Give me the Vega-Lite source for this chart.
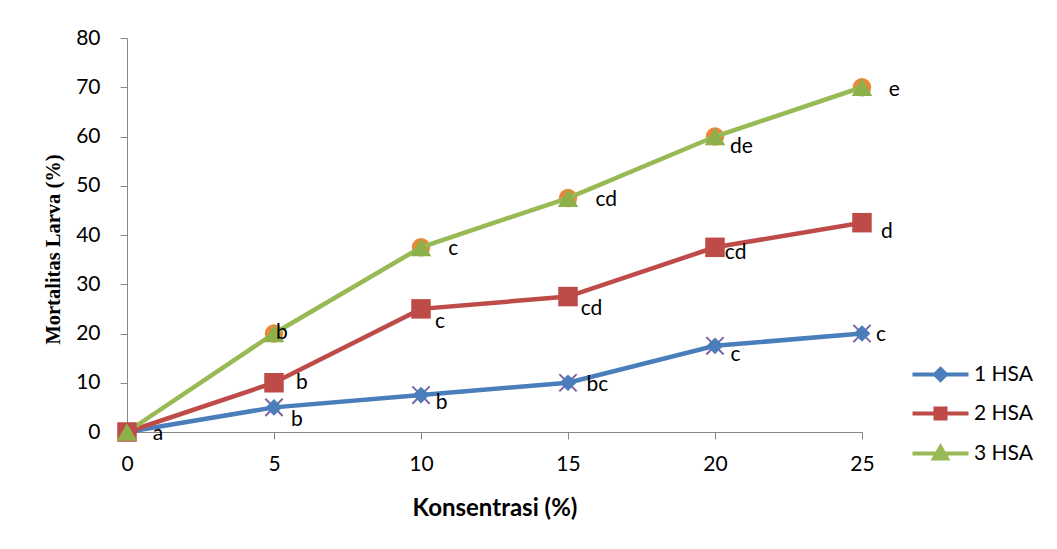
{
  "$schema": "https://vega.github.io/schema/vega-lite/v6.json",
  "width": 735,
  "height": 394,
  "autosize": {"type": "none"},
  "padding": {"left": 127, "top": 38, "right": 195, "bottom": 117},
  "background": "white",
  "config": {
    "view": {"stroke": null},
    "font": "Lato",
    "axis": {"grid": false, "labelFlush": false, "domainColor": "#868686", "tickColor": "#868686", "labelFont": "Lato", "labelFontSize": 21, "labelColor": "#000000", "titleColor": "#000000"}
  },
  "datasets": {
    "series": [
      {"series": "1 HSA", "x": 0, "y": 0},
      {"series": "1 HSA", "x": 5, "y": 5},
      {"series": "1 HSA", "x": 10, "y": 7.5},
      {"series": "1 HSA", "x": 15, "y": 10},
      {"series": "1 HSA", "x": 20, "y": 17.5},
      {"series": "1 HSA", "x": 25, "y": 20},
      {"series": "2 HSA", "x": 0, "y": 0},
      {"series": "2 HSA", "x": 5, "y": 10},
      {"series": "2 HSA", "x": 10, "y": 25},
      {"series": "2 HSA", "x": 15, "y": 27.5},
      {"series": "2 HSA", "x": 20, "y": 37.5},
      {"series": "2 HSA", "x": 25, "y": 42.5},
      {"series": "3 HSA", "x": 0, "y": 0},
      {"series": "3 HSA", "x": 5, "y": 20},
      {"series": "3 HSA", "x": 10, "y": 37.5},
      {"series": "3 HSA", "x": 15, "y": 47.5},
      {"series": "3 HSA", "x": 20, "y": 60},
      {"series": "3 HSA", "x": 25, "y": 70}
    ],
    "labels": [
      {"label": "a", "x": 1.05, "y": -0.5},
      {"label": "b", "x": 5.78, "y": 2.4},
      {"label": "b", "x": 10.7, "y": 5.9},
      {"label": "bc", "x": 16.0, "y": 9.5},
      {"label": "c", "x": 20.7, "y": 15.7},
      {"label": "c", "x": 25.65, "y": 19.7},
      {"label": "b", "x": 5.95, "y": 9.9},
      {"label": "c", "x": 10.65, "y": 22.3},
      {"label": "cd", "x": 15.8, "y": 24.9},
      {"label": "cd", "x": 20.7, "y": 36.3},
      {"label": "d", "x": 25.85, "y": 40.6},
      {"label": "b", "x": 5.27, "y": 20.1},
      {"label": "c", "x": 11.1, "y": 37.1},
      {"label": "cd", "x": 16.3, "y": 47.2},
      {"label": "de", "x": 20.9, "y": 57.9},
      {"label": "e", "x": 26.1, "y": 69.4}
    ]
  },
  "layer": [
    {
      "data": {"name": "series"},
      "transform": [{"filter": "datum.series === '1 HSA'"}],
      "mark": {"type": "point", "shape": "M-1,-1L1,1M-1,1L1,-1", "filled": false, "stroke": "#7F63A1", "strokeWidth": 2, "size": 300, "opacity": 1},
      "encoding": {
        "x": {"field": "x", "type": "quantitative"},
        "y": {"field": "y", "type": "quantitative"}
      }
    },
    {
      "data": {"name": "series"},
      "transform": [{"filter": "datum.series === '3 HSA'"}],
      "mark": {"type": "point", "shape": "circle", "filled": true, "fill": "#E8883A", "size": 340, "opacity": 1},
      "encoding": {
        "x": {"field": "x", "type": "quantitative"},
        "y": {"field": "y", "type": "quantitative"}
      }
    },
    {
      "data": {"name": "series"},
      "mark": {"type": "line", "strokeWidth": 4.5},
      "encoding": {
        "x": {
          "field": "x", "type": "quantitative",
          "scale": {"domain": [0, 25], "nice": false, "zero": true},
          "axis": {
            "values": [0, 5, 10, 15, 20, 25],
            "title": "Konsentrasi (%)",
            "titleFont": "Lato", "titleFontSize": 24, "titleFontWeight": "bold",
            "titleBaseline": "middle", "titleY": 76,
            "tickSize": 7, "labelPadding": 14, "labelFlush": false
          }
        },
        "y": {
          "field": "y", "type": "quantitative",
          "scale": {"domain": [0, 80], "nice": false},
          "axis": {
            "values": [0, 10, 20, 30, 40, 50, 60, 70, 80],
            "title": "Mortalitas Larva (%)",
            "titleFont": "Liberation Serif", "titleFontSize": 20.5, "titleFontWeight": "bold",
            "titleAngle": 270, "titleAlign": "center", "titleBaseline": "middle",
            "titleX": -74, "titleY": 211,
            "tickSize": 7, "labelPadding": 20, "labelFlush": false
          }
        },
        "color": {
          "field": "series", "type": "nominal",
          "scale": {"domain": ["1 HSA", "2 HSA", "3 HSA"], "range": ["#4A7EBB", "#BE4B48", "#98B954"]},
          "legend": {
            "title": null,
            "orient": "none",
            "legendX": 803,
            "legendY": 326,
            "labelFont": "Lato",
            "labelFontSize": 21,
            "labelColor": "#000000",
            "symbolSize": 100,
            "symbolStrokeWidth": 4,
            "labelOffset": 23,
            "rowPadding": 12,
            "encode": {
              "symbols": {
                "update": {
                  "shape": {"signal": "datum.value === '1 HSA' ? 'M-5.6,0H5.6M0,-1.1L1.1,0L0,1.1L-1.1,0Z' : datum.value === '2 HSA' ? 'M-5.6,0H5.6M-1,-1H1V1H-1Z' : 'M-5.6,0H5.6M0,-1.3L1.3,1L-1.3,1Z'"},
                  "fill": {"signal": "scale('color', datum.value)"},
                  "stroke": {"signal": "scale('color', datum.value)"},
                  "strokeWidth": {"value": 4},
                  "opacity": {"value": 1},
                  "fillOpacity": {"value": 1},
                  "strokeOpacity": {"value": 1}
                }
              }
            }
          }
        }
      }
    },
    {
      "data": {"name": "series"},
      "transform": [{"filter": "datum.series === '1 HSA'"}],
      "mark": {"type": "point", "shape": "diamond", "filled": true, "fill": "#4A7EBB", "size": 280, "opacity": 1},
      "encoding": {
        "x": {"field": "x", "type": "quantitative"},
        "y": {"field": "y", "type": "quantitative"}
      }
    },
    {
      "data": {"name": "series"},
      "transform": [{"filter": "datum.series === '2 HSA'"}],
      "mark": {"type": "point", "shape": "square", "filled": true, "fill": "#BE4B48", "size": 380, "opacity": 1},
      "encoding": {
        "x": {"field": "x", "type": "quantitative"},
        "y": {"field": "y", "type": "quantitative"}
      }
    },
    {
      "data": {"name": "series"},
      "transform": [{"filter": "datum.series === '3 HSA'"}],
      "mark": {"type": "point", "shape": "triangle-up", "filled": true, "fill": "#8DB04A", "size": 420, "opacity": 1},
      "encoding": {
        "x": {"field": "x", "type": "quantitative"},
        "y": {"field": "y", "type": "quantitative"}
      }
    },
    {
      "data": {"name": "labels"},
      "mark": {"type": "text", "font": "Lato", "fontSize": 21, "color": "#000000", "align": "center", "baseline": "middle"},
      "encoding": {
        "x": {"field": "x", "type": "quantitative"},
        "y": {"field": "y", "type": "quantitative"},
        "text": {"field": "label", "type": "nominal"}
      }
    }
  ]
}
